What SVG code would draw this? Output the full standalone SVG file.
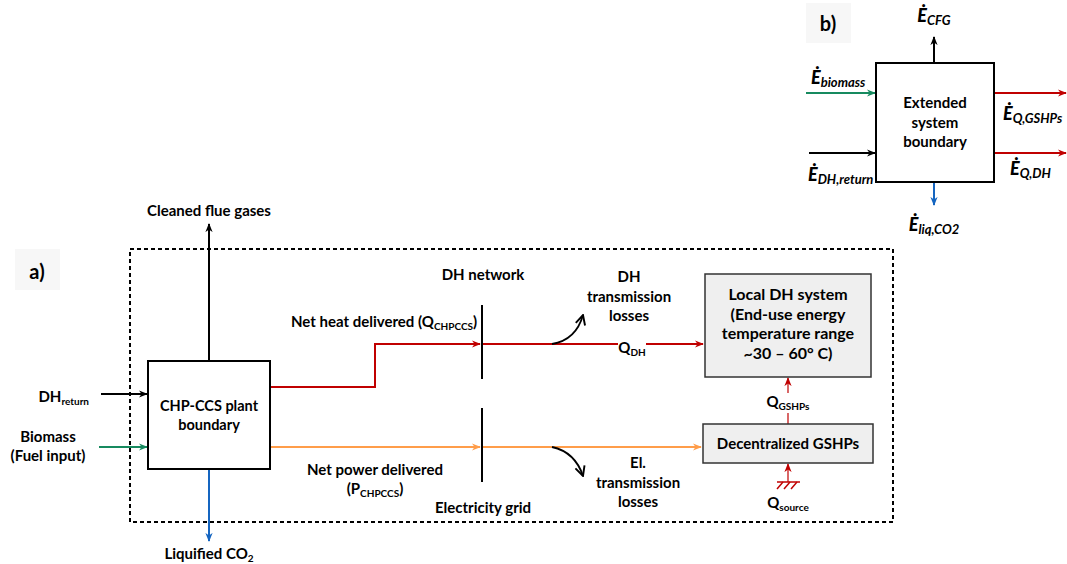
<svg xmlns="http://www.w3.org/2000/svg" width="1067" height="564" viewBox="0 0 1067 564">
<style>
text{font-family:Lato,"Liberation Sans",sans-serif;font-weight:bold;fill:#000;font-size:15px}
.c{text-anchor:middle}
.e{text-anchor:end}
.sub{font-size:10px}
.eb{font-style:italic;font-size:18px;font-weight:900}
.es{font-size:13px;font-weight:bold}
.box{fill:#fff;stroke:#000;stroke-width:2}
.gbox{fill:#efefef;stroke:#333;stroke-width:1.5}
.lbl{fill:#f7f7f7}
.k{stroke:#000;stroke-width:2;fill:none}
.r{stroke:#c00000;stroke-width:2;fill:none}
.rt{stroke:#c00000;stroke-width:1.2;fill:none}
.o{stroke:#ff9d4a;stroke-width:2;fill:none}
.g{stroke:#178a5f;stroke-width:2;fill:none}
.b{stroke:#1565c0;stroke-width:2;fill:none}
</style>
<defs>
<marker id="ak" viewBox="0 0 10 10" refX="9" refY="5" markerWidth="9" markerHeight="9" markerUnits="userSpaceOnUse" orient="auto"><path d="M0,1 L10,5 L0,9 L3,5 z" fill="#000"/></marker>
<marker id="ar" viewBox="0 0 10 10" refX="9" refY="5" markerWidth="9" markerHeight="9" markerUnits="userSpaceOnUse" orient="auto"><path d="M0,1 L10,5 L0,9 L3,5 z" fill="#c00000"/></marker>
<marker id="ao" viewBox="0 0 10 10" refX="9" refY="5" markerWidth="9" markerHeight="9" markerUnits="userSpaceOnUse" orient="auto"><path d="M0,1 L10,5 L0,9 L3,5 z" fill="#ff9d4a"/></marker>
<marker id="ag" viewBox="0 0 10 10" refX="9" refY="5" markerWidth="9" markerHeight="9" markerUnits="userSpaceOnUse" orient="auto"><path d="M0,1 L10,5 L0,9 L3,5 z" fill="#178a5f"/></marker>
<marker id="ab" viewBox="0 0 10 10" refX="9" refY="5" markerWidth="9" markerHeight="9" markerUnits="userSpaceOnUse" orient="auto"><path d="M0,1 L10,5 L0,9 L3,5 z" fill="#1565c0"/></marker>
<marker id="av" viewBox="0 0 10 10" refX="9" refY="5" markerWidth="12" markerHeight="12" markerUnits="userSpaceOnUse" orient="auto"><path d="M1,1 L9,5 L1,9" fill="none" stroke="#000" stroke-width="1.6"/></marker>
</defs>
<rect width="1067" height="564" fill="#fff"/>

<!-- panel labels -->
<g id="label-a"><rect class="lbl" x="15" y="249" width="45" height="41"/><text class="c" x="37" y="279" style="font-size:20px">a)</text></g>
<g id="label-b"><rect class="lbl" x="806" y="3" width="45" height="40"/><text class="c" x="828" y="31" style="font-size:20px">b)</text></g>

<!-- system boundary -->
<rect id="boundary" x="130" y="249" width="763" height="273" fill="none" stroke="#000" stroke-width="2" stroke-dasharray="4,3"/>

<g id="connectors">
<!-- panel a -->
<line class="k" x1="209" y1="361" x2="209" y2="224" marker-end="url(#ak)"/>
<line class="k" x1="101" y1="394" x2="147" y2="394" marker-end="url(#ak)"/>
<line class="g" x1="99" y1="447" x2="147" y2="447" marker-end="url(#ag)"/>
<line class="b" x1="209" y1="469" x2="209" y2="541" marker-end="url(#ab)"/>
<polyline class="r" points="271,387 375,387 375,344 480,344" marker-end="url(#ar)"/>
<line class="r" x1="482" y1="344" x2="618" y2="344"/>
<line class="r" x1="646" y1="344" x2="703" y2="344" marker-end="url(#ar)"/>
<line class="o" x1="271" y1="447" x2="480" y2="447" marker-end="url(#ao)"/>
<line class="o" x1="482" y1="447" x2="701" y2="447" marker-end="url(#ao)"/>
<line x1="482" y1="305" x2="482" y2="379" stroke="#000" stroke-width="2"/>
<line x1="482" y1="408" x2="482" y2="482" stroke="#000" stroke-width="2"/>
<path d="M552,344 Q576,340 583,315" fill="none" stroke="#000" stroke-width="1.8" marker-end="url(#av)"/>
<path d="M552,447 Q575,452 583,476" fill="none" stroke="#000" stroke-width="1.8" marker-end="url(#av)"/>
<line class="rt" x1="788" y1="424" x2="788" y2="413"/>
<line class="rt" x1="788" y1="393" x2="788" y2="378" marker-end="url(#ar)"/>
<line class="rt" x1="788" y1="482" x2="788" y2="464" marker-end="url(#ar)"/>
<g id="ground" stroke="#c00000" stroke-width="1.5">
<line x1="777" y1="482" x2="800" y2="482"/>
<line x1="783" y1="482" x2="777" y2="489"/>
<line x1="790" y1="482" x2="784" y2="489"/>
<line x1="797" y1="482" x2="791" y2="489"/>
</g>
<!-- panel b -->
<line class="k" x1="934" y1="63" x2="934" y2="37" marker-end="url(#ak)"/>
<line class="g" x1="806" y1="93" x2="875" y2="93" marker-end="url(#ag)"/>
<line class="k" x1="809" y1="153" x2="875" y2="153" marker-end="url(#ak)"/>
<line class="r" x1="994" y1="93" x2="1066" y2="93" marker-end="url(#ar)"/>
<line class="r" x1="994" y1="153" x2="1066" y2="153" marker-end="url(#ar)"/>
<line class="b" x1="934" y1="182" x2="934" y2="205" marker-end="url(#ab)"/>
</g>

<g id="chp">
<rect class="box" x="148" y="361" width="122" height="108"/>
<text class="c" x="209" y="411" style="font-size:14.5px">CHP-CCS plant</text>
<text class="c" x="209" y="430" style="font-size:14.5px">boundary</text>
</g>
<g id="local-dh">
<rect class="gbox" x="705" y="274" width="166" height="103"/>
<text class="c" x="788" y="300" style="font-size:16px">Local DH system</text>
<text class="c" x="788" y="320" style="font-size:16px">(End-use energy</text>
<text class="c" x="788" y="339" style="font-size:16px">temperature range</text>
<text class="c" x="788" y="359" style="font-size:16px">~30 – 60° C)</text>
</g>
<g id="gshps">
<rect class="gbox" x="703" y="424" width="170" height="39"/>
<text class="c" x="788" y="449" style="font-size:15px">Decentralized GSHPs</text>
</g>
<g id="extended">
<rect class="box" x="876" y="63" width="118" height="119" stroke-width="1.5"/>
<text class="c" x="935" y="108">Extended</text>
<text class="c" x="935" y="128">system</text>
<text class="c" x="935" y="147">boundary</text>
</g>

<g id="labels">
<text class="c" x="209" y="216">Cleaned flue gases</text>
<text class="e" x="89" y="402">DH<tspan class="sub" dy="3">return</tspan></text>
<text class="c" x="48" y="442">Biomass</text>
<text class="c" x="48" y="461">(Fuel input)</text>
<text class="c" x="209" y="559">Liquified CO<tspan class="sub" dy="3">2</tspan></text>
<text x="291" y="327">Net heat delivered (Q<tspan class="sub" dy="3">CHPCCS</tspan><tspan dy="-3">)</tspan></text>
<text class="c" x="483" y="280">DH network</text>
<text class="c" x="629" y="282">DH</text>
<text class="c" x="629" y="302">transmission</text>
<text class="c" x="629" y="321">losses</text>
<text class="c" x="632" y="353">Q<tspan class="sub" dy="3">DH</tspan></text>
<text class="c" x="375" y="475">Net power delivered</text>
<text class="c" x="375" y="494">(P<tspan class="sub" dy="3">CHPCCS</tspan><tspan dy="-3">)</tspan></text>
<text class="c" x="483" y="513">Electricity grid</text>
<text class="c" x="638" y="468">El.</text>
<text class="c" x="638" y="488">transmission</text>
<text class="c" x="638" y="507">losses</text>
<text class="c" x="788" y="407">Q<tspan class="sub" dy="3">GSHPs</tspan></text>
<text class="c" x="788" y="508">Q<tspan class="sub" dy="3">source</tspan></text>
<text class="eb c" x="934" y="22">Ė<tspan class="es" dy="3">CFG</tspan></text>
<text class="eb" x="811" y="84">Ė<tspan class="es" dy="3">biomass</tspan></text>
<text class="eb" x="808" y="181">Ė<tspan class="es" dy="3">DH,return</tspan></text>
<text class="eb" x="1003" y="120">Ė<tspan class="es" dy="3">Q,GSHPs</tspan></text>
<text class="eb" x="1010" y="175">Ė<tspan class="es" dy="3">Q,DH</tspan></text>
<text class="eb c" x="934" y="231">Ė<tspan class="es" dy="3">liq,CO2</tspan></text>
</g>
</svg>
